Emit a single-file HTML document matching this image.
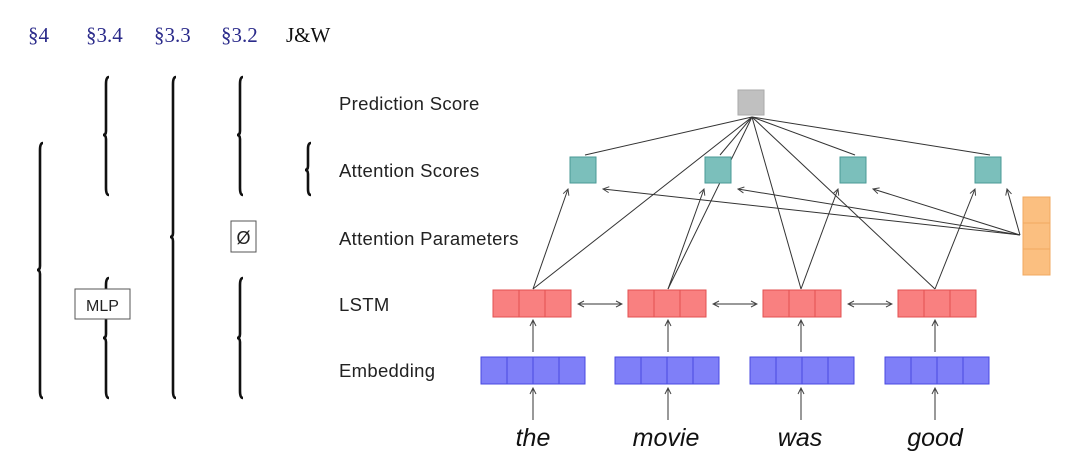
<!DOCTYPE html>
<html><head><meta charset="utf-8"><style>
body{margin:0;background:#fff;width:1080px;height:468px;overflow:hidden}
svg{display:block}
</style></head><body>
<svg width="1080" height="468" viewBox="0 0 1080 468" xmlns="http://www.w3.org/2000/svg">
<defs>
<marker id="a" markerWidth="8" markerHeight="8" refX="7" refY="4" orient="auto" markerUnits="userSpaceOnUse">
<path d="M1,1 L7,4 L1,7" fill="none" stroke="#444" stroke-width="1"/></marker>
<marker id="b" markerWidth="8" markerHeight="8" refX="1" refY="4" orient="auto" markerUnits="userSpaceOnUse">
<path d="M7,1 L1,4 L7,7" fill="none" stroke="#444" stroke-width="1"/></marker>
</defs>
<g font-family="Liberation Serif, serif" font-size="21" fill="#2a2a8a">
<text x="28" y="42">§4</text><text x="86" y="42">§3.4</text><text x="154" y="42">§3.3</text><text x="221" y="42">§3.2</text>
<text x="286" y="42" fill="#111">J&amp;W</text></g>
<g fill="none" stroke="#111" stroke-width="2.6">
<path d="M43,143 Q40,143 40,150 L40,266 Q40,270 37,270 Q40,270 40,274 L40,391 Q40,398 43,398"/>
<path d="M109,77 Q106,77 106,84 L106,131 Q106,135 103,135 Q106,135 106,139 L106,188 Q106,195 109,195"/>
<path d="M109,278 Q106,278 106,285 L106,334 Q106,338 103,338 Q106,338 106,342 L106,391 Q106,398 109,398"/>
<path d="M176,77 Q173,77 173,84 L173,233 Q173,237 170,237 Q173,237 173,241 L173,391 Q173,398 176,398"/>
<path d="M243,77 Q240,77 240,84 L240,131 Q240,135 237,135 Q240,135 240,139 L240,188 Q240,195 243,195"/>
<path d="M243,278 Q240,278 240,285 L240,334 Q240,338 237,338 Q240,338 240,342 L240,391 Q240,398 243,398"/>
<path d="M311,143 Q308,143 308,149 L308,166 Q308,170 305,170 Q308,170 308,174 L308,189 Q308,195 311,195"/>
</g>
<rect x="75" y="289" width="55" height="30" fill="#fff" stroke="#555"/>
<text x="102.5" y="311" font-family="Liberation Sans, sans-serif" font-size="16" text-anchor="middle" fill="#222">MLP</text>
<rect x="231" y="221" width="25" height="31" fill="#fff" stroke="#555"/>
<text x="243.5" y="244" font-family="Liberation Sans, sans-serif" font-size="18" text-anchor="middle" fill="#222">Ø</text>
<g font-family="Liberation Sans, sans-serif" font-size="18.5" fill="#222" letter-spacing="0.3">
<text x="339" y="110">Prediction Score</text><text x="339" y="177">Attention Scores</text>
<text x="339" y="245">Attention Parameters</text><text x="339" y="311">LSTM</text><text x="339" y="377">Embedding</text></g>
<g stroke="#333" stroke-width="1" fill="none">
<line x1="752" y1="117" x2="585" y2="155"/><line x1="752" y1="117" x2="720" y2="155"/>
<line x1="752" y1="117" x2="855" y2="155"/><line x1="752" y1="117" x2="990" y2="155"/>
<line x1="752" y1="117" x2="533" y2="289"/><line x1="752" y1="117" x2="668" y2="289"/>
<line x1="752" y1="117" x2="801" y2="289"/><line x1="752" y1="117" x2="935" y2="289"/>
<g marker-end="url(#a)">
<line x1="533" y1="289" x2="568" y2="189"/><line x1="668" y1="289" x2="704" y2="189"/>
<line x1="801" y1="289" x2="838" y2="189"/><line x1="935" y1="289" x2="975" y2="189"/>
<line x1="1020" y1="235" x2="603" y2="189"/><line x1="1020" y1="235" x2="738" y2="189"/>
<line x1="1020" y1="235" x2="873" y2="189"/><line x1="1020" y1="235" x2="1007" y2="189"/>
<line x1="533" y1="352" x2="533" y2="320"/><line x1="668" y1="352" x2="668" y2="320"/>
<line x1="801" y1="352" x2="801" y2="320"/><line x1="935" y1="352" x2="935" y2="320"/>
<line x1="533" y1="420" x2="533" y2="388"/><line x1="668" y1="420" x2="668" y2="388"/>
<line x1="801" y1="420" x2="801" y2="388"/><line x1="935" y1="420" x2="935" y2="388"/>
</g>
<g marker-end="url(#a)" marker-start="url(#b)">
<line x1="578" y1="304" x2="622" y2="304"/><line x1="713" y1="304" x2="757" y2="304"/><line x1="848" y1="304" x2="892" y2="304"/>
</g></g>
<rect x="738" y="90" width="26" height="25" fill="#c0c0c0" stroke="#aaa"/>
<g fill="#7bbfbb" stroke="#4a9a96">
<rect x="570" y="157" width="26" height="26"/><rect x="705" y="157" width="26" height="26"/>
<rect x="840" y="157" width="26" height="26"/><rect x="975" y="157" width="26" height="26"/></g>
<g fill="#fbbf80" stroke="#f0a860">
<rect x="1023" y="197" width="27" height="26"/><rect x="1023" y="223" width="27" height="26"/><rect x="1023" y="249" width="27" height="26"/></g>
<g fill="#f98080" stroke="#e25050">
<rect x="493" y="290" width="26" height="27"/><rect x="519" y="290" width="26" height="27"/><rect x="545" y="290" width="26" height="27"/>
<rect x="628" y="290" width="26" height="27"/><rect x="654" y="290" width="26" height="27"/><rect x="680" y="290" width="26" height="27"/>
<rect x="763" y="290" width="26" height="27"/><rect x="789" y="290" width="26" height="27"/><rect x="815" y="290" width="26" height="27"/>
<rect x="898" y="290" width="26" height="27"/><rect x="924" y="290" width="26" height="27"/><rect x="950" y="290" width="26" height="27"/></g>
<g fill="#7f7ff8" stroke="#4a4ae0">
<rect x="481" y="357" width="26" height="27"/><rect x="507" y="357" width="26" height="27"/><rect x="533" y="357" width="26" height="27"/><rect x="559" y="357" width="26" height="27"/>
<rect x="615" y="357" width="26" height="27"/><rect x="641" y="357" width="26" height="27"/><rect x="667" y="357" width="26" height="27"/><rect x="693" y="357" width="26" height="27"/>
<rect x="750" y="357" width="26" height="27"/><rect x="776" y="357" width="26" height="27"/><rect x="802" y="357" width="26" height="27"/><rect x="828" y="357" width="26" height="27"/>
<rect x="885" y="357" width="26" height="27"/><rect x="911" y="357" width="26" height="27"/><rect x="937" y="357" width="26" height="27"/><rect x="963" y="357" width="26" height="27"/></g>
<g font-family="Liberation Sans, sans-serif" font-style="italic" font-size="25" fill="#111" text-anchor="middle">
<text x="533" y="446">the</text><text x="666" y="446">movie</text><text x="800" y="446">was</text><text x="935" y="446">good</text></g>
</svg>
</body></html>
